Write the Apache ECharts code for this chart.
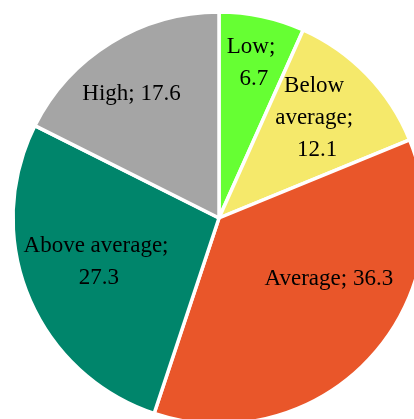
<!DOCTYPE html>
<html>
<head>
<meta charset="utf-8">
<script src="https://cdn.jsdelivr.net/npm/echarts@6/dist/echarts.min.js"></script>
<style>
  html, body { margin: 0; padding: 0; background: #fff; }
  #chart { width: 414px; height: 419px; }
</style>
</head>
<body>
<div id="chart"></div>
<script>
// Share of respondents by level (percent), clockwise from the top
const categories = ['Low', 'Below average', 'Average', 'Above average', 'High'];
const values = [6.7, 12.1, 36.3, 27.3, 17.6];

// Slice colours, in category order
const colors = ['#66FF33', '#F5E96B', '#E9562A', '#00856B', '#A5A5A5'];
// Wrapping width for each label (px); 0 = no wrap
const labelWidths = [52, 90, 0, 170, 0];
// Label anchor: [angle shift from slice middle (deg), fraction of radius]
const labelAnchors = [[-0.4, 0.77], [-1.5, 0.68], [-14, 0.61], [2.6, 0.62], [-3.6, 0.735]];

const CX = 219, CY = 218, R = 206;

const total = values.reduce((a, b) => a + b, 0);
const midAngles = [];
let acc = 0;
values.forEach(v => {
  midAngles.push((acc + v / 2) / total * 360);
  acc += v;
});

const chart = echarts.init(document.getElementById('chart'));
chart.setOption({
  animation: false,
  series: [{
    type: 'pie',
    center: [CX, CY],
    radius: [0, R],
    startAngle: 90,
    clockwise: true,
    avoidLabelOverlap: false,
    itemStyle: { borderColor: '#ffffff', borderWidth: 3.5 },
    label: {
      show: true,
      position: 'inside',
      formatter: p => p.name + '; ' + p.value,
      fontFamily: '"Liberation Serif", "Times New Roman", serif',
      fontSize: 23,
      lineHeight: 32,
      color: '#000000',
      align: 'center'
    },
    labelLine: { show: false },
    labelLayout: p => {
      const i = p.dataIndex;
      const a = (midAngles[i] + labelAnchors[i][0]) * Math.PI / 180;
      const rr = R * labelAnchors[i][1];
      return {
        x: CX + rr * Math.sin(a),
        y: CY - rr * Math.cos(a),
        align: 'center',
        verticalAlign: 'middle'
      };
    },
    emphasis: { disabled: true },
    data: categories.map((name, i) => ({
      name: name,
      value: values[i],
      itemStyle: { color: colors[i] },
      label: labelWidths[i] ? { width: labelWidths[i], overflow: 'break' } : {}
    }))
  }]
});
</script>
</body>
</html>
